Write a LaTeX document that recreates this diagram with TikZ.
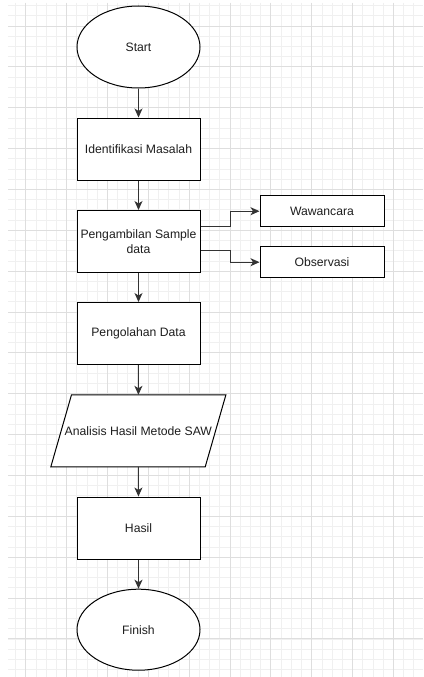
\documentclass[tikz,border=0pt]{standalone}
\usepackage{fontspec}
\setmainfont{Liberation Sans}
\usetikzlibrary{arrows.meta,shapes.geometric}
\definecolor{minorgrid}{HTML}{F0F0F0}
\definecolor{majorgrid}{HTML}{DEDEDE}
\definecolor{edgecol}{HTML}{333333}
\definecolor{textcol}{HTML}{1E1E1E}
\begin{document}
\begin{tikzpicture}[x=1pt,y=-1pt,
  font=\fontsize{12.2}{15}\selectfont,
  every node/.style={text=textcol},
  procbox/.style={draw=black,line width=1pt,fill=white,rectangle,inner sep=0pt,minimum width=123pt,minimum height=62pt,align=center},
  sidebox/.style={draw=black,line width=1pt,fill=white,rectangle,inner sep=0pt,minimum width=124pt,minimum height=31pt,align=center},
  termbox/.style={draw=black,line width=1pt,fill=white,ellipse,inner sep=0pt,minimum width=123pt,minimum height=82pt},
  flow/.style={draw=edgecol,line width=1pt,-{Stealth[length=9pt,width=8pt,inset=2.5pt]}}]
\useasboundingbox (0,0) rectangle (423,677);
\fill[white] (0,0) rectangle (423,677);
% grid
\begin{scope}
\clip (8,3) rectangle (423,677);
\foreach \i in {-1,...,38} {
  \pgfmathsetmacro{\gx}{25.7+10.215*\i}
  \draw[minorgrid,line width=0.8pt] (\gx,3) -- (\gx,677);
}
\foreach \j in {-2,...,63} {
  \pgfmathsetmacro{\gy}{26+10.215*\j}
  \draw[minorgrid,line width=0.8pt] (8,\gy) -- (423,\gy);
}
\foreach \i in {0,...,9} {
  \pgfmathsetmacro{\gx}{25.7+40.86*\i}
  \draw[majorgrid,line width=0.9pt] (\gx,3) -- (\gx,677);
}
\foreach \j in {0,...,15} {
  \pgfmathsetmacro{\gy}{26+40.86*\j}
  \draw[majorgrid,line width=0.9pt] (8,\gy) -- (423,\gy);
}
\end{scope}
% nodes
\node[termbox] (start) at (138.5,47) {Start};
\node[procbox] (ident) at (138.5,149) {Identifikasi Masalah};
\node[procbox] (ambil) at (138.5,241.5) {Pengambilan Sample\\data};
\node[sidebox] (waw) at (322,211.2) {Wawancara};
\node[sidebox] (obs) at (322,262.2) {Observasi};
\node[procbox] (olah) at (138.5,333.5) {Pengolahan Data};
\node[rectangle,inner sep=0pt,minimum width=174.7pt,minimum height=71.7pt] (ana) at (138.35,430.85) {};
\fill[white,draw=black,line width=1pt] ([xshift=20.7pt]ana.north west) -- (ana.north east) -- ([xshift=-20.7pt]ana.south east) -- (ana.south west) -- cycle;
\node (anatext) at (ana.center) {Analisis Hasil Metode SAW};
\node[procbox] (hasil) at (138.5,528) {Hasil};
\node[termbox,minimum height=81pt] (finish) at (138.5,629.7) {Finish};
% connectors
\draw[flow] (start) -- (ident);
\draw[flow] (ident) -- (ambil);
\draw[flow] (ambil) -- (olah);
\draw[flow] (olah) -- (ana);
\draw[flow] (ana) -- (hasil);
\draw[flow] (hasil) -- (finish);
\coordinate (a1) at ([yshift=15.5pt]ambil.east);
\coordinate (a2) at ([yshift=-9.2pt]ambil.east);
\draw[flow] (a1) -| (230,211.2) -- (waw.west);
\draw[flow] (a2) -| (230,262.2) -- (obs.west);
\end{tikzpicture}
\end{document}
